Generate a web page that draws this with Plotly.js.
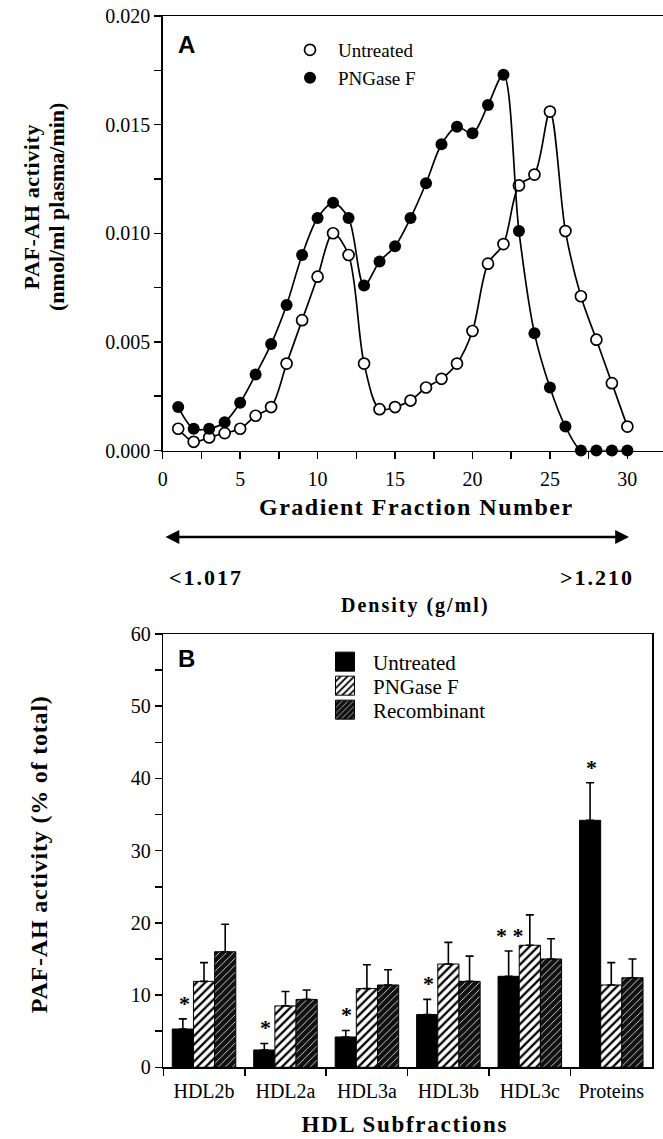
<!DOCTYPE html>
<html>
<head>
<meta charset="utf-8">
<script src="https://cdn.plot.ly/plotly-3.0.1.min.js"></script>
<style>
  html, body { margin: 0; padding: 0; background: #fff; }
  #chart { width: 663px; height: 1139px; }
</style>
</head>
<body>
<div id="chart"></div>
<script>
// ---------- Panel A data ----------
const fractions = [1,2,3,4,5,6,7,8,9,10,11,12,13,14,15,16,17,18,19,20,21,22,23,24,25,26,27,28,29,30];
const untreatedActivity = [0.0010,0.0004,0.0006,0.0008,0.0010,0.0016,0.0020,0.0040,0.0060,0.0080,
                           0.0100,0.0090,0.0040,0.0019,0.0020,0.0023,0.0029,0.0033,0.0040,0.0055,
                           0.0086,0.0095,0.0122,0.0127,0.0156,0.0101,0.0071,0.0051,0.0031,0.0011];
const pngaseActivity = [0.0020,0.0010,0.0010,0.0013,0.0022,0.0035,0.0049,0.0067,0.0090,0.0107,
                        0.0114,0.0107,0.0076,0.0087,0.0094,0.0107,0.0123,0.0141,0.0149,0.0146,
                        0.0159,0.0173,0.0101,0.0054,0.0029,0.0011,0,0,0,0];
const aXTickVals = [0,2.5,5,7.5,10,12.5,15,17.5,20,22.5,25,27.5,30];
const aXTickText = ['0','','5','','10','','15','','20','','25','','30'];
const aYTickVals = [0,0.0025,0.005,0.0075,0.01,0.0125,0.015,0.0175,0.02];
const aYTickText = ['0.000','','0.005','','0.010','','0.015','','0.020'];

// ---------- Panel B data ----------
const subfractions = ['HDL2b','HDL2a','HDL3a','HDL3b','HDL3c','Proteins'];
const untreatedPct = [5.3, 2.4, 4.2, 7.3, 12.6, 34.2];
const untreatedErr = [1.4, 0.9, 0.9, 2.1, 3.5, 5.2];
const pngasePct    = [11.9, 8.5, 10.9, 14.3, 16.9, 11.4];
const pngaseErr    = [2.6, 2.0, 3.3, 3.0, 4.2, 3.1];
const recombPct    = [16.0, 9.4, 11.4, 11.9, 15.0, 12.4];
const recombErr    = [3.8, 1.3, 2.1, 3.5, 2.8, 2.6];
const significance = ['*','*','*','*','* *','*'];
const bYTickVals = [0,5,10,15,20,25,30,35,40,45,50,55,60];
const bYTickText = ['0','','10','','20','','30','','40','','50','','60'];

const SERIF = 'Liberation Serif, Times New Roman, serif';
const SANS = 'Liberation Sans, Arial, sans-serif';
const W = 663, H = 1139;
const px = v => v / W;
const py = v => 1 - v / H;

const zeros = untreatedErr.map(() => 0);

const traces = [
  { x: fractions, y: untreatedActivity, type: 'scatter', mode: 'lines+markers',
    line: { shape: 'spline', smoothing: 0.9, color: '#000', width: 1.7 },
    marker: { symbol: 'circle', size: 11, color: '#fff', line: { color: '#000', width: 1.7 } },
    xaxis: 'x', yaxis: 'y', showlegend: false, cliponaxis: false, name: 'Untreated' },
  { x: fractions, y: pngaseActivity, type: 'scatter', mode: 'lines+markers',
    line: { shape: 'spline', smoothing: 0.9, color: '#000', width: 1.7 },
    marker: { symbol: 'circle', size: 12, color: '#000' },
    xaxis: 'x', yaxis: 'y', showlegend: false, cliponaxis: false, name: 'PNGase F' },
  // legend entries (markers only) for panel A
  { x: [null], y: [null], type: 'scatter', mode: 'markers', name: 'Untreated',
    marker: { symbol: 'circle', size: 11, color: '#fff', line: { color: '#000', width: 1.7 } },
    xaxis: 'x', yaxis: 'y', legend: 'legend' },
  { x: [null], y: [null], type: 'scatter', mode: 'markers', name: 'PNGase F',
    marker: { symbol: 'circle', size: 12, color: '#000' },
    xaxis: 'x', yaxis: 'y', legend: 'legend2' },
  // panel B bars
  { x: subfractions, y: untreatedPct, type: 'bar', name: 'Untreated', xaxis: 'x2', yaxis: 'y2',
    legend: 'legend3',
    marker: { color: '#000', line: { color: '#000', width: 1 } },
    error_y: { type: 'data', symmetric: false, array: untreatedErr, arrayminus: zeros,
               color: '#000', thickness: 1.6, width: 4 } },
  { x: subfractions, y: pngasePct, type: 'bar', name: 'PNGase F', xaxis: 'x2', yaxis: 'y2',
    legend: 'legend4',
    marker: { color: '#fff', line: { color: '#000', width: 1 },
              pattern: { shape: '/', fgcolor: '#000', bgcolor: '#fff', size: 6, solidity: 0.38, fillmode: 'replace' } },
    error_y: { type: 'data', symmetric: false, array: pngaseErr, arrayminus: zeros,
               color: '#000', thickness: 1.6, width: 4 } },
  { x: subfractions, y: recombPct, type: 'bar', name: 'Recombinant', xaxis: 'x2', yaxis: 'y2',
    legend: 'legend5',
    marker: { color: '#000', line: { color: '#000', width: 1 },
              pattern: { shape: '/', fgcolor: '#fff', bgcolor: '#111', size: 5, solidity: 0.15, fillmode: 'replace' } },
    error_y: { type: 'data', symmetric: false, array: recombErr, arrayminus: zeros,
               color: '#000', thickness: 1.6, width: 4 } }
];

// [annotation, letter-spacing px]
const annSpec = [
  [{ text: 'A', xref: 'paper', yref: 'paper', x: px(176), y: py(45), xanchor: 'left', yanchor: 'middle',
    showarrow: false, font: { family: SANS, size: 24, color: '#000', weight: 'bold' } }, 0],
  [{ text: 'B', xref: 'paper', yref: 'paper', x: px(176), y: py(658), xanchor: 'left', yanchor: 'middle',
    showarrow: false, font: { family: SANS, size: 24, color: '#000', weight: 'bold' } }, 0],
  [{ text: '<b>PAF-AH activity</b>', xref: 'paper', yref: 'paper', x: px(31), y: py(207), textangle: -90,
    xanchor: 'center', yanchor: 'middle', showarrow: false, font: { family: SERIF, size: 22, color: '#000' } }, 0.6],
  [{ text: '<b>(nmol/ml plasma/min)</b>', xref: 'paper', yref: 'paper', x: px(56), y: py(207), textangle: -90,
    xanchor: 'center', yanchor: 'middle', showarrow: false, font: { family: SERIF, size: 22, color: '#000' } }, 0],
  [{ text: '<b>Gradient Fraction Number</b>', xref: 'paper', yref: 'paper', x: px(416), y: py(507),
    xanchor: 'center', yanchor: 'middle', showarrow: false, font: { family: SERIF, size: 24, color: '#000' } }, 1.5],
  [{ text: '', xref: 'paper', yref: 'paper', axref: 'paper', ayref: 'paper',
    x: px(629), y: py(537), ax: px(164), ay: py(537), showarrow: true,
    arrowhead: 2, startarrowhead: 2, arrowside: 'end+start', arrowsize: 1.2, startarrowsize: 1.2, arrowwidth: 2.3, arrowcolor: '#000' }, 0],
  [{ text: '<b>&lt;1.017</b>', xref: 'paper', yref: 'paper', x: px(206), y: py(577),
    xanchor: 'center', yanchor: 'middle', showarrow: false, font: { family: SERIF, size: 22, color: '#000' } }, 2],
  [{ text: '<b>&gt;1.210</b>', xref: 'paper', yref: 'paper', x: px(597), y: py(577),
    xanchor: 'center', yanchor: 'middle', showarrow: false, font: { family: SERIF, size: 22, color: '#000' } }, 2],
  [{ text: '<b>Density (g/ml)</b>', xref: 'paper', yref: 'paper', x: px(415), y: py(605),
    xanchor: 'center', yanchor: 'middle', showarrow: false, font: { family: SERIF, size: 20, color: '#000' } }, 2],
  [{ text: '<b>PAF-AH activity (% of total)</b>', xref: 'paper', yref: 'paper', x: px(39), y: py(855), textangle: -90,
    xanchor: 'center', yanchor: 'middle', showarrow: false, font: { family: SERIF, size: 24, color: '#000' } }, 0.8],
  [{ text: '<b>HDL Subfractions</b>', xref: 'paper', yref: 'paper', x: px(405), y: py(1124),
    xanchor: 'center', yanchor: 'middle', showarrow: false, font: { family: SERIF, size: 23, color: '#000' } }, 1.7]
];

// significance markers above the Untreated bars (derived from the data)
subfractions.forEach((c, i) => {
  annSpec.push([{
    text: significance[i], xref: 'x2', yref: 'y2', x: c, y: untreatedPct[i] + untreatedErr[i],
    xshift: -20, yshift: 1, xanchor: 'center', yanchor: 'bottom', showarrow: false,
    font: { family: SERIF, size: 22, color: '#000', weight: 'bold' }
  }, 0]);
});
const annotations = annSpec.map(a => a[0]);
const letterSpacing = annSpec.map(a => a[1]);

const axisCommon = {
  showline: true, linecolor: '#000', linewidth: 1.5, ticks: 'outside', ticklen: 7, tickwidth: 1.5,
  tickcolor: '#000', showgrid: false, zeroline: false,
  tickfont: { family: SERIF, size: 20, color: '#000' }
};

function legendAt(xPix, yPix, size) {
  return {
    x: px(xPix), y: py(yPix), xanchor: 'left', yanchor: 'middle',
    bgcolor: 'rgba(0,0,0,0)', borderwidth: 0, itemwidth: 46,
    font: { family: SERIF, size: size, color: '#000' }
  };
}

const layout = {
  width: W, height: H,
  margin: { l: 0, r: 0, t: 0, b: 0, pad: 0 },
  paper_bgcolor: '#fff', plot_bgcolor: 'rgba(0,0,0,0)',
  showlegend: true,
  barmode: 'group', bargap: 0.22, bargroupgap: 0,
  xaxis: Object.assign({}, axisCommon, {
    domain: [px(162.7), 1], range: [0, 32.3], anchor: 'y', mirror: true,
    tickmode: 'array', tickvals: aXTickVals, ticktext: aXTickText, ticklabelstandoff: 3
  }),
  yaxis: Object.assign({}, axisCommon, {
    domain: [py(450.5), py(16)], range: [0, 0.02], anchor: 'x',
    tickmode: 'array', tickvals: aYTickVals, ticktext: aYTickText
  }),
  xaxis2: Object.assign({}, axisCommon, {
    domain: [px(163.3), px(652)], anchor: 'y2', mirror: true, type: 'category',
    tickson: 'boundaries', range: [-0.5, 5.5], ticklabelstandoff: 5
  }),
  yaxis2: Object.assign({}, axisCommon, {
    domain: [py(1067.3), py(634)], range: [0, 60], anchor: 'x2', mirror: true,
    tickmode: 'array', tickvals: bYTickVals, ticktext: bYTickText
  }),
  legend:  legendAt(282, 50, 19),
  legend2: legendAt(282, 78, 19),
  legend3: legendAt(317, 662, 21),
  legend4: legendAt(317, 686, 21),
  legend5: legendAt(317, 710, 21),
  annotations: annotations
};

Plotly.newPlot('chart', traces, layout, { displayModeBar: false, staticPlot: true }).then(gd => {
  // letter spacing for the wide-set bold labels
  gd.querySelectorAll('g.annotation').forEach(g => {
    const i = +g.getAttribute('data-index');
    const ls = letterSpacing[i];
    if (ls) {
      const t = g.querySelector('text');
      if (t) t.style.letterSpacing = ls + 'px';
    }
  });
  // enlarge the bar swatches in the panel B legend
  gd.querySelectorAll('g.legendpoints path').forEach(p => {
    const d = p.getAttribute('d') || '';
    if (d.indexOf('M6,6H-6V-6H6Z') === 0) {
      p.setAttribute('d', 'M9.5,9.5H-9.5V-9.5H9.5Z');
    }
  });
});
</script>
</body>
</html>
